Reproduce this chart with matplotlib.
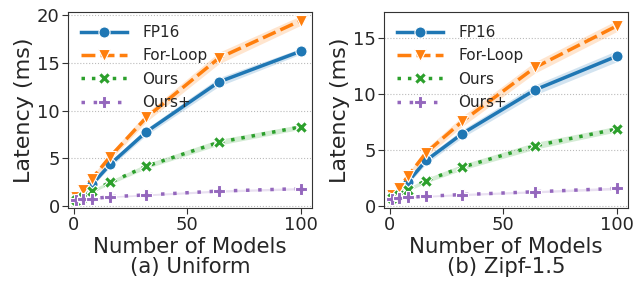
import matplotlib
matplotlib.use("Agg")
import matplotlib.pyplot as plt
import numpy as np

# number of models on the x axis
N_MODELS = [1, 4, 8, 16, 32, 64, 100]

# (a) Uniform, latency in ms
UNI_FP16 = [0.8, 1.3, 2.3, 4.4, 7.8, 13.0, 16.2]
UNI_LOOP = [1.0, 1.7, 2.9, 5.2, 9.3, 15.5, 19.4]
UNI_OURS = [0.7, 1.0, 1.6, 2.5, 4.2, 6.7, 8.3]
UNI_OURSP = [0.7, 0.75, 0.8, 1.0, 1.2, 1.6, 1.85]

# (b) Zipf-1.5, latency in ms
ZIPF_FP16 = [0.8, 1.3, 2.2, 4.1, 6.5, 10.4, 13.4]
ZIPF_LOOP = [1.0, 1.6, 2.7, 4.8, 7.6, 12.4, 16.1]
ZIPF_OURS = [0.7, 1.0, 1.5, 2.3, 3.5, 5.4, 6.9]
ZIPF_OURSP = [0.65, 0.75, 0.8, 0.9, 1.05, 1.3, 1.6]

# half-width of the shaded confidence band (ms), per series
UNI_BAND_FP16 = [0.1, 0.15, 0.2, 0.3, 0.35, 0.45, 0.3]
UNI_BAND_LOOP = [0.15, 0.2, 0.25, 0.35, 0.45, 0.6, 0.5]
UNI_BAND_OURS = [0.1, 0.1, 0.15, 0.2, 0.25, 0.3, 0.25]
UNI_BAND_OURSP = [0.05, 0.05, 0.05, 0.08, 0.1, 0.12, 0.12]
ZIPF_BAND_FP16 = [0.1, 0.15, 0.2, 0.3, 0.35, 0.45, 0.5]
ZIPF_BAND_LOOP = [0.15, 0.2, 0.25, 0.35, 0.45, 0.5, 0.5]
ZIPF_BAND_OURS = [0.1, 0.1, 0.15, 0.2, 0.25, 0.3, 0.25]
ZIPF_BAND_OURSP = [0.05, 0.05, 0.05, 0.08, 0.1, 0.1, 0.12]

SERIES = ["FP16", "For-Loop", "Ours", "Ours+"]
COLORS = ["#1f77b4", "#ff7f0e", "#2ca02c", "#9467bd"]
MARKERS = ["o", "v", "X", "P"]
DASHES = [None, (4, 1.5), (1, 2), (1, 2.5)]
TXT = "#262626"

plt.rcParams["font.family"] = "DejaVu Sans"
plt.rcParams["text.color"] = TXT
plt.rcParams["axes.labelcolor"] = TXT
plt.rcParams["xtick.color"] = TXT
plt.rcParams["ytick.color"] = TXT

fig = plt.figure(figsize=(6.33, 2.82), dpi=100)
ax1 = fig.add_axes([68 / 633, 1 - 208 / 282, 244 / 633, 196 / 282])
ax2 = fig.add_axes([384 / 633, 1 - 208 / 282, 244 / 633, 196 / 282])


def draw(ax, data, bands, title, ylim):
    x = np.array(N_MODELS)
    for ys, b, name, c, m, d in zip(data, bands, SERIES, COLORS, MARKERS, DASHES):
        ys = np.array(ys)
        b = np.array(b)
        ax.fill_between(x, ys - b, ys + b, color=c, alpha=0.2, lw=0)
        ln, = ax.plot(x, ys, color=c, marker=m, lw=2.5, ms=8,
                      mec="white", mew=0.8, label=name)
        if d is not None:
            ln.set_dashes(d)
    ax.set_xlim(-2.6, 105)
    ax.set_ylim(*ylim)
    ax.set_xticks([0, 50, 100])
    ax.tick_params(labelsize=13, length=4, color="#333333", pad=2)
    ax.set_ylabel("Latency (ms)", fontsize=16, labelpad=2)
    ax.set_xlabel("Number of Models\n" + title, fontsize=15.3, linespacing=1.0,
                  labelpad=2)
    ax.yaxis.grid(True, ls=":", color="#bbbbbb", lw=0.8)
    ax.set_axisbelow(True)
    for s in ax.spines.values():
        s.set_color("#333333")
    ax.legend(loc="upper left", frameon=False, fontsize=11,
              handlelength=3.0, handletextpad=1.0, borderaxespad=0.45,
              labelspacing=0.55)


draw(ax1, [UNI_FP16, UNI_LOOP, UNI_OURS, UNI_OURSP],
     [UNI_BAND_FP16, UNI_BAND_LOOP, UNI_BAND_OURS, UNI_BAND_OURSP],
     "(a) Uniform", (-0.17, 20.3))
ax1.set_yticks([0, 5, 10, 15, 20])
draw(ax2, [ZIPF_FP16, ZIPF_LOOP, ZIPF_OURS, ZIPF_OURSP],
     [ZIPF_BAND_FP16, ZIPF_BAND_LOOP, ZIPF_BAND_OURS, ZIPF_BAND_OURSP],
     "(b) Zipf-1.5", (-0.15, 17.35))
ax2.set_yticks([0, 5, 10, 15])

fig.savefig("out.png", dpi=100)
